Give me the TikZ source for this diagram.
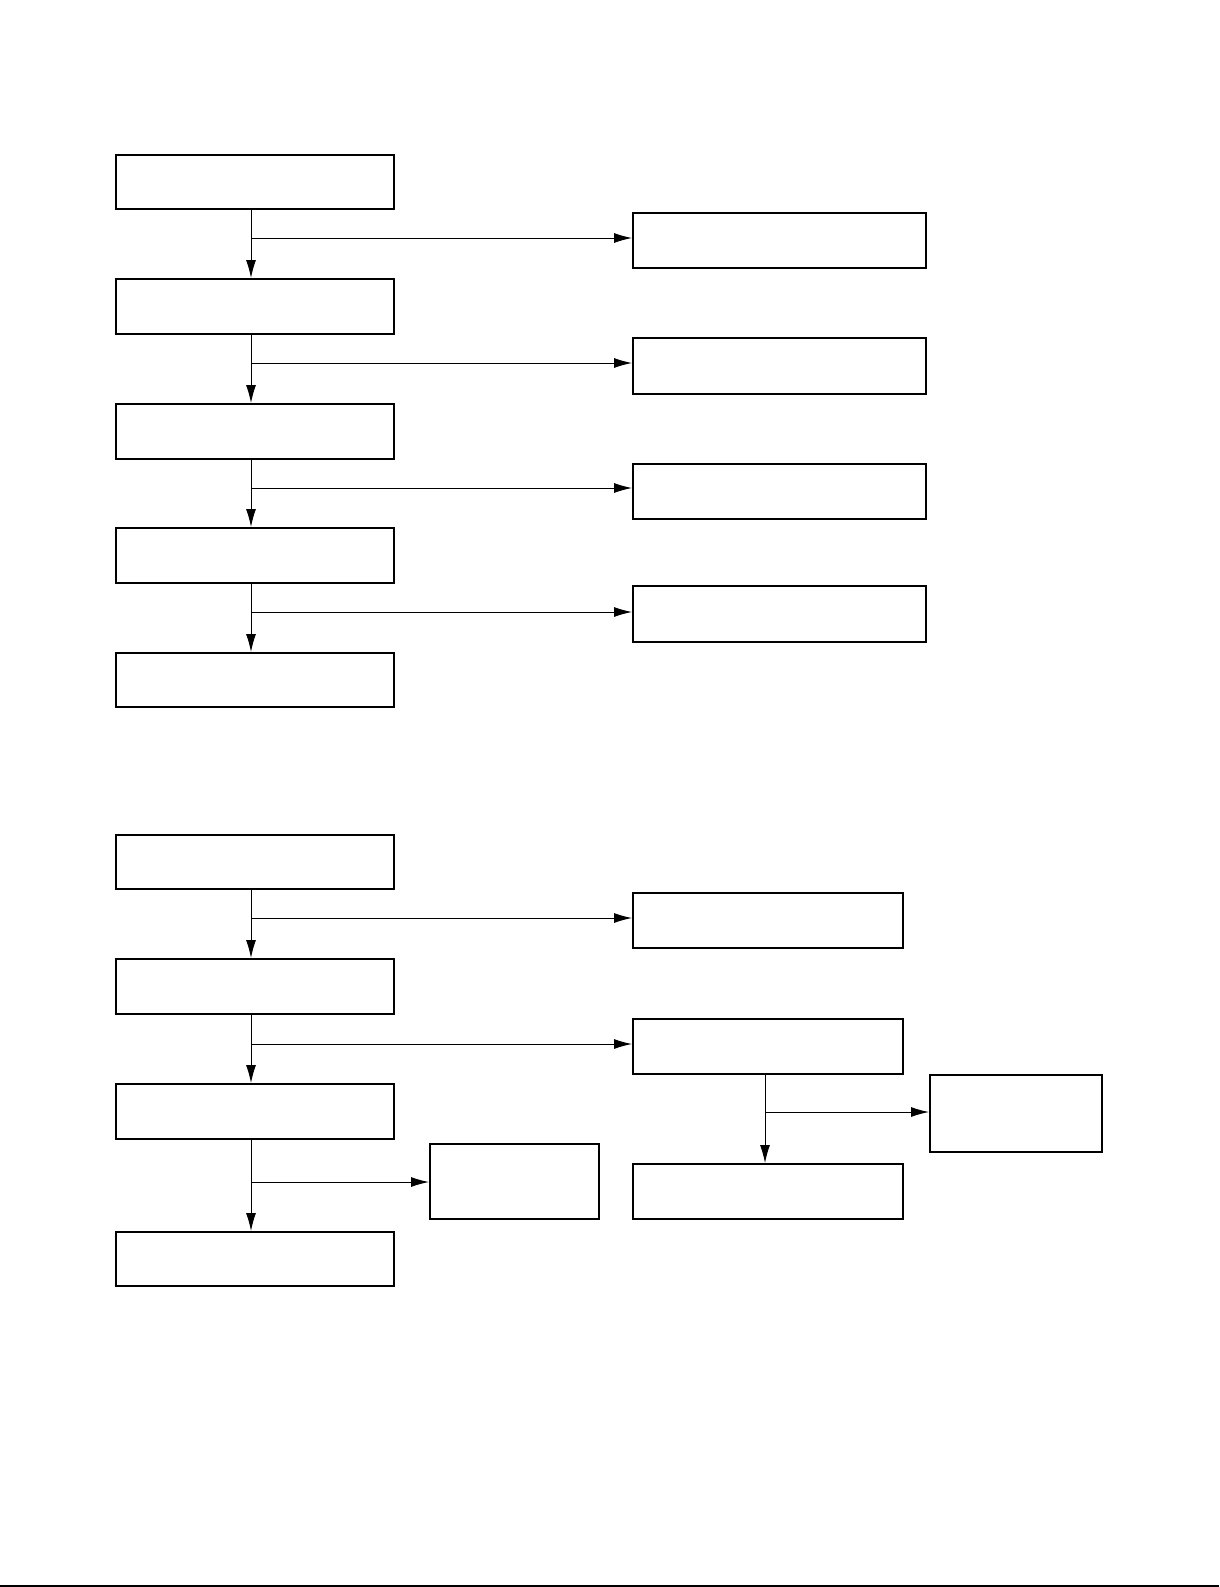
\documentclass[tikz,border=0pt]{standalone}
\usetikzlibrary{arrows.meta}
\begin{document}
\begin{tikzpicture}[x=1pt,y=-1pt,
  box/.style={draw,line width=2pt,inner sep=0pt,anchor=north west},
  arr/.style={line width=1pt,-{Latex[length=18pt,width=10pt]}},
  ln/.style={line width=1pt}]
\useasboundingbox (0,0) rectangle (1219,1587);
\newcommand{\bx}[5]{\node[box,minimum width=#4pt,minimum height=#5pt] (#1) at (#2,#3) {};}
% upper chart
\bx{a1}{115}{154}{278}{54}
\bx{a2}{115}{278}{278}{55}
\bx{a3}{115}{403}{278}{55}
\bx{a4}{115}{527}{278}{55}
\bx{a5}{115}{652}{278}{54}
\bx{r1}{632}{212}{293}{55}
\bx{r2}{632}{337}{293}{56}
\bx{r3}{632}{463}{293}{55}
\bx{r4}{632}{585}{293}{56}
\coordinate (v) at (251,0);
\foreach \p/\q/\r/\y in {a1/a2/r1/238,a2/a3/r2/363,a3/a4/r3/488,a4/a5/r4/612}{
  \draw[arr] (\p.south -| v) -- (\q.north -| v);
  \draw[arr] (v |- 0,\y) -- (\r.west |- 0,\y);
}
% lower chart
\bx{b1}{115}{834}{278}{54}
\bx{b2}{115}{958}{278}{55}
\bx{b3}{115}{1083}{278}{55}
\bx{b4}{115}{1231}{278}{54}
\bx{s1}{632}{892}{270}{55}
\bx{s2}{632}{1018}{270}{55}
\bx{s3}{632}{1163}{270}{55}
\bx{t1}{929}{1074}{172}{77}
\bx{u1}{429}{1143}{169}{75}
\draw[arr] (b1.south -| v) -- (b2.north -| v);
\draw[arr] (v |- 0,918) -- (s1.west |- 0,918);
\draw[arr] (b2.south -| v) -- (b3.north -| v);
\draw[arr] (v |- 0,1044) -- (s2.west |- 0,1044);
\draw[arr] (b3.south -| v) -- (b4.north -| v);
\draw[arr] (v |- 0,1182) -- (u1.west |- 0,1182);
\coordinate (w) at (765,0);
\draw[arr] (s2.south -| w) -- (s3.north -| w);
\draw[arr] (w |- 0,1112) -- (t1.west |- 0,1112);
% bottom rule
\coordinate (bl) at (0,1586);
\coordinate (br) at (1219,1586);
\draw[line width=1.5pt] (bl) -- (br);
\end{tikzpicture}
\end{document}
